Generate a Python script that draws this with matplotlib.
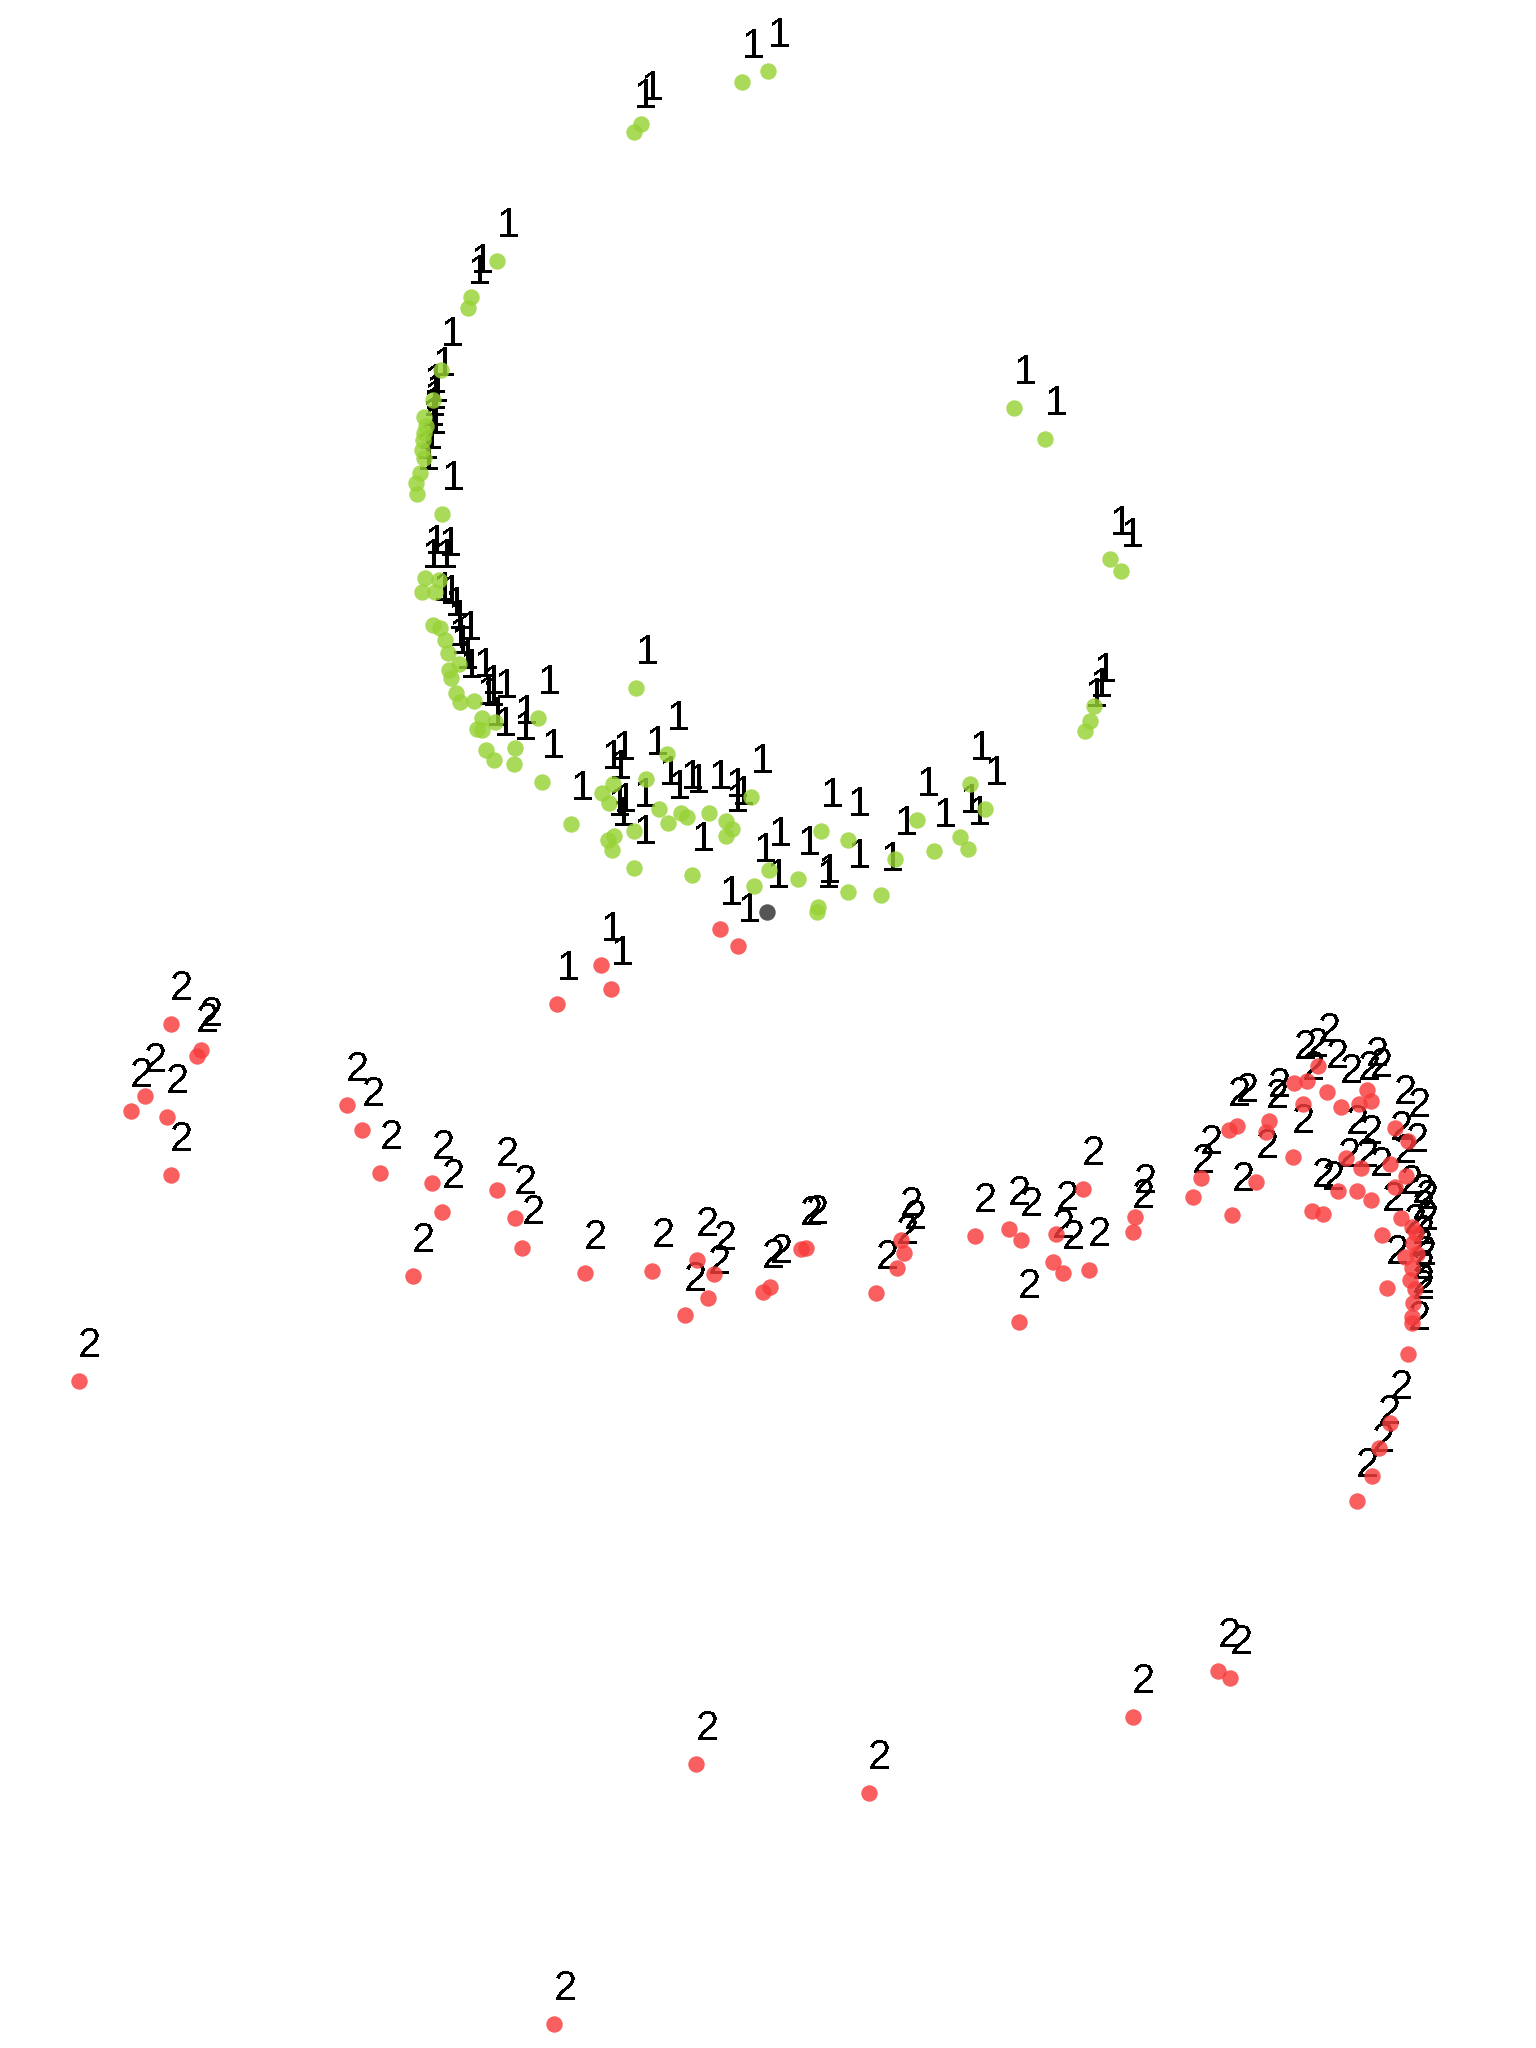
import matplotlib
matplotlib.use("Agg")
import matplotlib.pyplot as plt

# cluster A (green) - embedding coordinates
green_x = [742, 768, 641, 634, 497, 471, 468, 441, 433, 424, 426, 424, 423, 422, 424, 420, 416, 417,
           442, 425, 439, 422, 435, 433, 440, 445, 448, 459, 449, 451, 456, 460, 474, 482, 477, 482,
           495, 486, 494, 515, 514, 538, 542, 636, 571, 602, 613, 609, 646, 667, 659, 668, 681, 687,
           709, 726, 732, 726, 751, 608, 614, 612, 634, 634, 692, 769, 754, 798, 821, 848, 848, 817,
           818, 917, 960, 968, 934, 895, 985, 970, 881, 1014, 1045, 1110, 1121, 1094, 1090, 1085]
green_y = [82, 71, 124, 132, 261, 297, 308, 370, 400, 417, 426, 433, 440, 450, 458, 473, 483, 494,
           514, 578, 580, 592, 592, 625, 628, 640, 653, 664, 670, 678, 693, 702, 701, 718, 729, 730,
           722, 750, 760, 748, 764, 718, 782, 688, 824, 793, 784, 803, 779, 754, 809, 823, 813, 817,
           813, 821, 829, 836, 797, 840, 836, 850, 831, 868, 875, 870, 886, 879, 831, 840, 892, 912,
           907, 820, 837, 849, 851, 859, 809, 784, 895, 408, 439, 559, 571, 706, 721, 731]
green_lab = ["1"] * len(green_x)

# cluster B (red)
red_x = [720, 738, 601, 611, 557,
         171, 201, 197, 145, 131, 167, 171, 79,
         347, 362, 380, 432, 442, 413, 497, 515, 522, 585, 652,
         697, 714, 708, 685, 763, 770, 801, 806, 876, 901, 904, 897, 975, 1009, 1021, 1056, 1083,
         1053, 1063, 1089, 1019, 1135, 1133, 1193, 1201,
         1232, 1229, 1237, 1256, 1269, 1266, 1293, 1294, 1307, 1318, 1303, 1327, 1341, 1367, 1371,
         1359, 1346, 1361, 1338, 1357, 1371, 1312, 1323, 1395, 1408, 1390, 1406, 1395, 1401, 1412,
         1416, 1382, 1405, 1417, 1412, 1410, 1415, 1413, 1412, 1412, 1387, 1413,
         1408, 1390, 1379, 1372, 1357,
         1218, 1230, 1133, 696, 869, 554]
red_y = [929, 946, 965, 989, 1004,
         1024, 1050, 1056, 1096, 1111, 1117, 1175, 1381,
         1105, 1130, 1173, 1183, 1212, 1276, 1190, 1218, 1248, 1273, 1271,
         1260, 1274, 1298, 1315, 1292, 1287, 1249, 1248, 1293, 1240, 1253, 1268, 1236, 1229, 1240,
         1234, 1189, 1262, 1273, 1270, 1322, 1217, 1232, 1197, 1178,
         1215, 1130, 1126, 1182, 1121, 1132, 1157, 1083, 1081, 1066, 1104, 1092, 1107, 1090, 1101,
         1104, 1158, 1168, 1191, 1191, 1200, 1211, 1214, 1128, 1141, 1164, 1176, 1187, 1218, 1227,
         1233, 1235, 1257, 1254, 1268, 1280, 1289, 1303, 1317, 1323, 1288, 1243,
         1354, 1423, 1448, 1476, 1501,
         1671, 1678, 1717, 1764, 1793, 2024]
red_lab = ["1"] * 5 + ["2"] * (len(red_x) - 5)

# noise point (grey)
grey_x = [767]
grey_y = [912]
grey_lab = ["1"]

fig = plt.figure(figsize=(15.36, 20.48), dpi=100, facecolor="white")
ax = fig.add_axes([0, 0, 1, 1])

groups = [
    (green_x, green_y, green_lab, "#98d236"),
    (red_x, red_y, red_lab, "#f83c3c"),
    (grey_x, grey_y, grey_lab, "#303030"),
]

for xs, ys, labs, col in groups:
    ax.scatter(xs, ys, s=140, color=col, alpha=0.82, linewidths=0, zorder=3)
    for x, y, lab in zip(xs, ys, labs):
        ax.annotate(lab, (x, y), xytext=(11, 24), textcoords="offset pixels",
                    ha="center", va="baseline", fontsize=30,
                    family="Liberation Sans", color="black", zorder=2,
                    antialiased=False)

ax.set_xlim(0, 1536)
ax.set_ylim(2048, 0)
ax.axis("off")

fig.savefig("out.png", dpi=100, facecolor="white")
